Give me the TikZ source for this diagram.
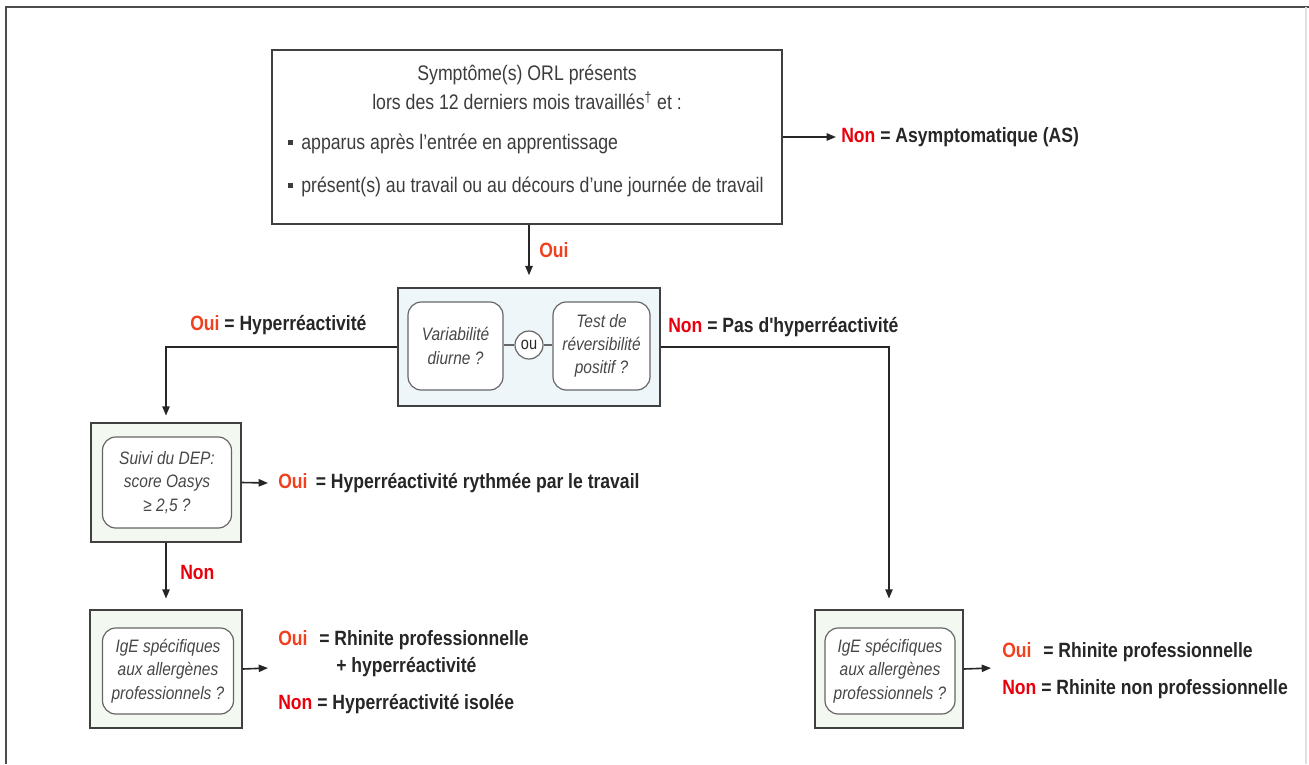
\documentclass[tikz,border=0pt]{standalone}
\usepackage{fontspec}
\setmainfont{Liberation Sans}[FakeStretch=0.84]
\newfontfamily\lblfont{Liberation Sans}[FakeStretch=0.85]
\newfontfamily\itfont{Liberation Sans}[FakeStretch=0.86]
\usetikzlibrary{arrows.meta,calc}
\definecolor{ouired}{HTML}{F0401E}
\definecolor{nonred}{HTML}{E8000C}
\definecolor{txt}{HTML}{262626}
\definecolor{bluefill}{HTML}{EEF6F9}
\definecolor{greenfill}{HTML}{F3F8F1}
\begin{document}
\begin{tikzpicture}[x=0.75pt,y=-0.75pt,
  arr/.style={draw=black!85, line width=1.2pt, -{Triangle[length=7pt,width=5.5pt]}},
  conn/.style={draw=black!80, line width=1.2pt},
  outerbox/.style={draw=black!75, line width=1.1pt, inner sep=0pt},
  innerbox/.style={draw=black!60, line width=0.9pt, rounded corners=10pt, fill=white, inner sep=0pt, align=center,
      font=\itfont\itshape\fontsize{13.5}{17.5}\selectfont, text=txt!85},
  bodytext/.style={font=\fontsize{15.8}{18}\selectfont, text=txt!90, inner sep=0pt},
  lbl/.style={font=\lblfont\bfseries\fontsize{15.5}{18}\selectfont, text=txt, inner sep=0pt, anchor=west},
]
\useasboundingbox (0,0) rectangle (1309,764);
% frame
\draw[draw=black!70, line width=1.6pt] (6,764) -- (6,7) -- (1309,7);
\draw[draw=black!12, line width=0.8pt] (1306,7) -- (1306,764);

% top box
\node[outerbox, minimum width=382.5pt, minimum height=130.5pt] (top) at (527,137) {};
\node[bodytext] (t1) at (527,75) {Symptôme(s) ORL présents};
\node[bodytext] (t2) at (527,101) {lors des 12 derniers mois travaillés\textsuperscript{†} et :};
\node[bodytext, anchor=west] (t3) at (288,144) {\raisebox{0.22em}{\rule{3.5pt}{3.5pt}}\, apparus après l'entrée en apprentissage};
\node[bodytext, anchor=west] (t4) at (288,187) {\raisebox{0.22em}{\rule{3.5pt}{3.5pt}}\, présent(s) au travail ou au décours d'une journée de travail};

\coordinate (asE) at (836,137);
\draw[arr] (top.east) -- (asE);
\node[lbl] (asL) at (841,137) {\textcolor{nonred}{Non} = Asymptomatique (AS)};

% middle box
\node[outerbox, fill=bluefill, minimum width=196.5pt, minimum height=88.5pt] (mid) at (529,347) {};
\node[innerbox, minimum width=71.25pt, minimum height=66pt] (var) at (455.5,346) {Variabilité\\diurne ?};
\node[draw=black!60, line width=0.9pt, circle, fill=white, minimum size=21pt, inner sep=0pt,
      font=\fontsize{13}{14}\selectfont, text=txt] (ou) at (529,345) {ou};
\node[innerbox, minimum width=72.75pt, minimum height=66pt] (test) at (601.5,346) {Test de\\réversibilité\\positif ?};
\draw[conn, line width=0.9pt, draw=black!60] (var.east |- ou.west) -- (ou.west);
\draw[conn, line width=0.9pt, draw=black!60] (ou.east) -- (test.west |- ou.east);

\draw[arr, shorten >=9pt] (top.south -| mid.north) -- (mid.north);
\node[lbl, text=ouired] (oui1) at (539,250) {Oui};

% DEP box
\node[outerbox, fill=greenfill, minimum width=112.5pt, minimum height=89.25pt] (dep) at (166,482.5) {};
\node[innerbox, minimum width=96.75pt, minimum height=68.25pt] (depin) at (167,482.5) {Suivi du DEP:\\score Oasys\\≥ 2,5 ?};

\draw[arr, shorten >=5pt] (mid.west) -| (dep.north);
\node[lbl] (hyp) at (190,325) {\textcolor{ouired}{Oui} = Hyperréactivité};

\coordinate (depE) at (268,483);
\draw[arr] (dep.east) -- (depE);
\node[lbl] (ryt) at (278,483) {\textcolor{ouired}{Oui}\, = Hyperréactivité rythmée par le travail};

% IgE left
\node[outerbox, fill=greenfill, minimum width=114pt, minimum height=88.5pt] (igeL) at (166,669) {};
\node[innerbox, minimum width=98.25pt, minimum height=64.5pt] (igeLin) at (168,671) {IgE spécifiques\\aux allergènes\\professionnels ?};
\draw[arr, shorten >=8pt] (dep.south) -- (igeL.north);
\node[lbl, text=nonred] (non1) at (180,572) {Non};

\coordinate (igeLE) at (268,668);
\draw[arr] (igeL.east) -- (igeLE);
\node[lbl] (lo) at (278,640) {\textcolor{ouired}{Oui}\,\, = Rhinite professionnelle};
\node[lbl] (lo3) at (336,667) {+ hyperréactivité};
\node[lbl] (ln) at (278,704) {\textcolor{nonred}{Non} = Hyperréactivité isolée};

% IgE right
\node[outerbox, fill=greenfill, minimum width=111pt, minimum height=88.5pt] (igeR) at (889,669) {};
\node[innerbox, minimum width=97.5pt, minimum height=64.5pt] (igeRin) at (890,671) {IgE spécifiques\\aux allergènes\\professionnels ?};
\draw[arr, shorten >=8pt] (mid.east) -| (igeR.north);
\node[lbl] (phyp) at (668,327) {\textcolor{nonred}{Non} = Pas d'hyperréactivité};

\coordinate (igeRE) at (991,668);
\draw[arr] (igeR.east) -- (igeRE);
\node[lbl] (ro) at (1002,652) {\textcolor{ouired}{Oui}\,\, = Rhinite professionnelle};
\node[lbl] (rn) at (1002,689) {\textcolor{nonred}{Non} = Rhinite non professionnelle};
\end{tikzpicture}
\end{document}
